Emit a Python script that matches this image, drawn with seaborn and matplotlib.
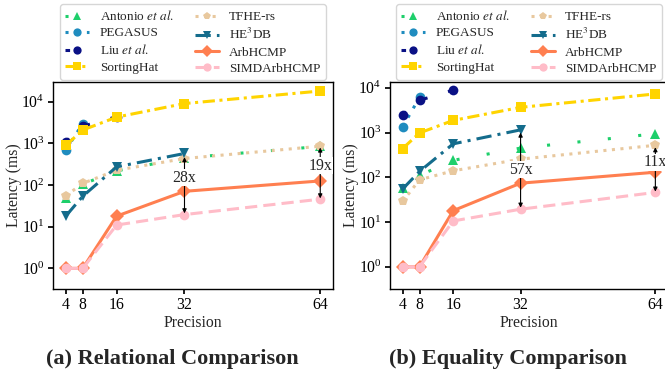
import numpy as np
import pandas as pd
import matplotlib
matplotlib.use("Agg")
import matplotlib.pyplot as plt
import seaborn as sns

# ---- data ----
precision = [4, 8, 16, 32, 64]
labels = [r"Antonio $\it{et\ al.}$", "PEGASUS", r"Liu $\it{et\ al.}$", "SortingHat",
          "TFHE-rs", r"HE$^3$DB", "ArbHCMP", "SIMDArbHCMP"]

# (a) relational comparison, latency in ms (None = not reported)
rel_antonio = [50, 105, 220, 450, 850]
rel_pegasus = [690, 3000, None, None, None]
rel_liu = [1100, 2600, 4400, None, None]
rel_sortinghat = [900, 2100, 4300, 9100, 18200]
rel_tfhe = [55, 110, 228, 435, 860]
rel_he3db = [18, 54, 275, 575, None]
rel_arb = [1, 1, 18, 71, 126]
rel_simd = [1, 1, 11, 19.6, 46]

# (b) equality comparison
eq_antonio = [59, 110, 240, 450, 940]
eq_pegasus = [1340, 6100, None, None, None]
eq_liu = [2500, 5250, 8900, None, None]
eq_sortinghat = [440, 980, 1870, 3660, 7300]
eq_tfhe = [29, 88, 140, 255, 520]
eq_he3db = [55, 135, 560, 1150, None]
eq_arb = [1, 1, 18, 74, 130]
eq_simd = [1, 1, 10.6, 19.4, 46]

colors = dict(zip(labels, ["#1ecf6b", "#1f8cbf", "#0a1185", "#ffd400",
                           "#e8c89e", "#146c8c", "#ff7f50", "#ffbcc8"]))
markers = dict(zip(labels, ["^", "o", "o", "s", "p", "v", "D", "o"]))
dashes = dict(zip(labels, [(1, 9), (1, 2.5), (1.5, 7), (4, 1.5, 1, 1.5),
                           (1, 1.8), (5, 2, 1, 2), "", (4, 2)]))


def to_frame(series):
    rows = []
    for name, vals in zip(labels, series):
        for p, v in zip(precision, vals):
            if v is not None:
                rows.append({"Precision": p, "Latency": v, "Method": name})
    return pd.DataFrame(rows)


rel_df = to_frame([rel_antonio, rel_pegasus, rel_liu, rel_sortinghat,
                   rel_tfhe, rel_he3db, rel_arb, rel_simd])
eq_df = to_frame([eq_antonio, eq_pegasus, eq_liu, eq_sortinghat,
                  eq_tfhe, eq_he3db, eq_arb, eq_simd])

sns.set_theme(style="ticks")
plt.rcParams["font.family"] = ["Liberation Serif", "DejaVu Serif"]
plt.rcParams["mathtext.fontset"] = "stix"

fig = plt.figure(figsize=(6.65, 3.74), dpi=100)
ax1 = fig.add_axes([0.0797, 0.2273, 0.421, 0.5535])
ax2 = fig.add_axes([0.5865, 0.2273, 0.418, 0.5535])


def draw(ax, df, ytop, notes):
    sns.lineplot(data=df, x="Precision", y="Latency", hue="Method", style="Method",
                 hue_order=labels, style_order=labels, palette=colors,
                 markers=markers, dashes=dashes, linewidth=2.2, markersize=7,
                 markeredgewidth=0, errorbar=None, sort=True, ax=ax)
    ax.set_yscale("log")
    ax.set_ylim(0.32, ytop)
    ax.set_xticks(precision)
    ax.yaxis.set_minor_locator(matplotlib.ticker.NullLocator())
    ax.set_xlabel("Precision", fontsize=11.3, labelpad=1)
    ax.set_ylabel("Latency (ms)", fontsize=11.3)
    ax.yaxis.set_label_coords(-0.111, 0.5)
    ax.tick_params(labelsize=11.3, colors="black", length=3.5, pad=2.5)
    for s in ax.spines.values():
        s.set_color("black")
        s.set_linewidth(1.0)
    # speedup arrows
    for x, top, bot, ty, txt in notes:
        ax.annotate("", xy=(x, bot), xytext=(x, top),
                    arrowprops=dict(arrowstyle="<|-|>", color="black", lw=0.8,
                                    mutation_scale=6, shrinkA=0, shrinkB=0))
        ax.text(x, ty, txt, ha="center", va="center", fontsize=11.3,
                bbox=dict(fc="white", ec="none", pad=0.3))
    sns.move_legend(ax, "lower center", bbox_to_anchor=(0.5, 1.0), ncol=2,
                    title=None, frameon=True, fontsize=9.5, handlelength=1.8,
                    labelspacing=0.3, columnspacing=1.6, borderaxespad=0.15,
                    markerscale=0.85)


draw(ax1, rel_df, 3e4, [(32, 470, 21, 150, "28x"), (64, 800, 48, 290, "19x")])
draw(ax2, eq_df, 1.35e4, [(32, 1000, 21, 148, "57x"), (64, 470, 48, 215, "11x")])

fig.text(172 / 665, 1 - 359 / 374, "(a) Relational Comparison", ha="center",
         va="center", fontsize=16, fontweight="bold")
fig.text(508 / 665, 1 - 359 / 374, "(b) Equality Comparison", ha="center",
         va="center", fontsize=16, fontweight="bold")

fig.savefig("out.png", dpi=100)
